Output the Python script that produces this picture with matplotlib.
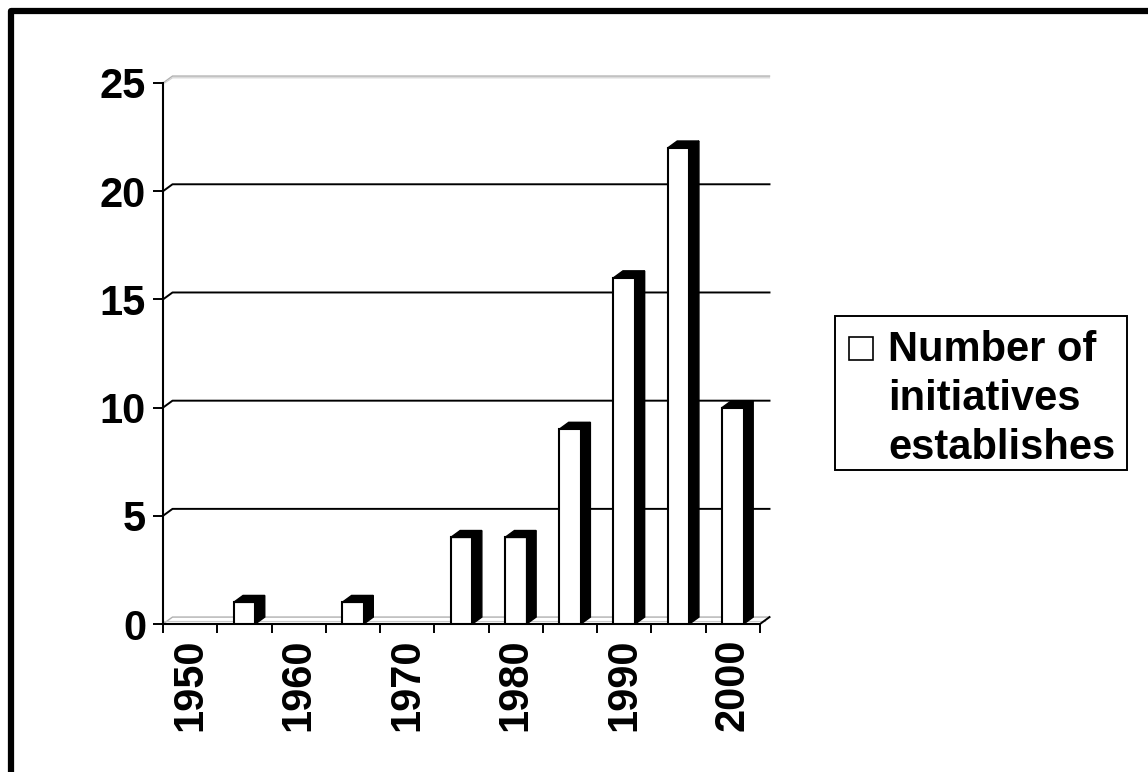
import numpy as np
import matplotlib
matplotlib.use("Agg")
import matplotlib.pyplot as plt
from matplotlib.patches import Polygon, Rectangle
from matplotlib.lines import Line2D

# data
years = [1950, 1955, 1960, 1965, 1970, 1975, 1980, 1985, 1990, 1995, 2000]
counts = [0, 1, 0, 1, 0, 4, 4, 9, 16, 22, 10]
shown_years = ['1950', '1960', '1970', '1980', '1990', '2000']
y_ticks = [0, 5, 10, 15, 20, 25]
legend_label = 'Number of\ninitiatives\nestablishes'

plt.rcParams['font.family'] = ['Liberation Sans', 'DejaVu Sans']
plt.rcParams['font.weight'] = 'bold'

W, H = 1148, 772
fig = plt.figure(figsize=(W / 100, H / 100), dpi=100)
ax = fig.add_axes([163 / W, 1 - 624 / H, 597 / W, 541 / H])
n = len(years)
ax.set_xlim(-0.5, n - 0.5)
ax.set_ylim(0, 25)
ax.set_facecolor('none')
for s in ['top', 'right']:
    ax.spines[s].set_visible(False)
for s in ['left', 'bottom']:
    ax.spines[s].set_linewidth(1.5)

# fake 3D depth (in data units)
dx, dy = 0.175, 0.32
x0, x1 = -0.5, n - 0.5

# back-wall gridlines
for v in y_ticks[1:-1]:
    ax.plot([x0, x0 + dx, x1 + dx], [v, v + dy, v + dy], color='black',
            lw=1.4, clip_on=False, zorder=1)
top = y_ticks[-1]
ax.plot([x0, x0 + dx, x1 + dx], [top, top + dy, top + dy], color='#b0b0b0',
        lw=1.0, clip_on=False, zorder=1)
ax.plot([x0 + 0.03, x0 + dx, x1 + dx], [top, top + dy - 0.08, top + dy - 0.08],
        color='#d0d0d0', lw=0.8, clip_on=False, zorder=1)
# floor
ax.plot([x0, x0 + dx, x1 + dx], [0, dy, dy], color='#b0b0b0', lw=1.0,
        clip_on=False, zorder=1)
ax.plot([x0, x1 + dx * 0.5], [dy * 0.5, dy * 0.5], color='#c8c8c8', lw=0.8,
        clip_on=False, zorder=1)
ax.plot([x1, x1 + dx], [0, dy], color='black', lw=1.4, clip_on=False, zorder=2)

# bars with black side and top
w = 0.4
for i, v in enumerate(counts):
    if v <= 0:
        continue
    ax.bar(i, v, width=w, color='white', edgecolor='black', lw=1.5, zorder=3)
    r = i + w / 2
    l = i - w / 2
    ax.add_patch(Polygon([(r, 0), (r + dx, dy), (r + dx, v + dy), (r, v)],
                         closed=True, facecolor='black', edgecolor='black',
                         lw=1.0, zorder=3))
    ax.add_patch(Polygon([(l, v), (l + dx, v + dy), (r + dx, v + dy), (r, v)],
                         closed=True, facecolor='black', edgecolor='black',
                         lw=1.0, zorder=3))

# ticks
ax.set_xticks(np.arange(x0, x1 + 0.01, 1))
ax.set_xticklabels([])
ax.tick_params(axis='x', which='major', direction='out', length=6.5, width=1.4)
ax.set_xticks(np.arange(0, n, 2), minor=True)
ax.set_xticklabels(shown_years, minor=True, rotation=90, fontsize=30,
                   fontweight='bold')
ax.tick_params(axis='x', which='minor', length=0, pad=10.5)
ax.set_yticks(y_ticks)
ax.set_yticklabels([str(t) for t in y_ticks], fontsize=30, fontweight='bold')
ax.tick_params(axis='y', direction='out', length=7.2, width=1.4, pad=5.0)

# legend box
fig.add_artist(Rectangle((835 / W, 1 - 470 / H), 292 / W, 154 / H,
                         transform=fig.transFigure, fill=False,
                         edgecolor='black', lw=1.4))
fig.add_artist(Rectangle((849 / W, 1 - 360 / H), 24 / W, 23 / H,
                         transform=fig.transFigure, facecolor='white',
                         edgecolor='black', lw=1.2))
fig.text(888 / W, 1 - 399 / H, legend_label, ha='left', va='center',
         fontsize=30, fontweight='bold', linespacing=1.28)

# outer frame (cropped at right and bottom)
fig.add_artist(Line2D([11 / W, 11 / W, 1.01], [-0.01, 1 - 11 / H, 1 - 11 / H],
                      transform=fig.transFigure, color='black', lw=4.5))

fig.savefig('out.png', dpi=100)
